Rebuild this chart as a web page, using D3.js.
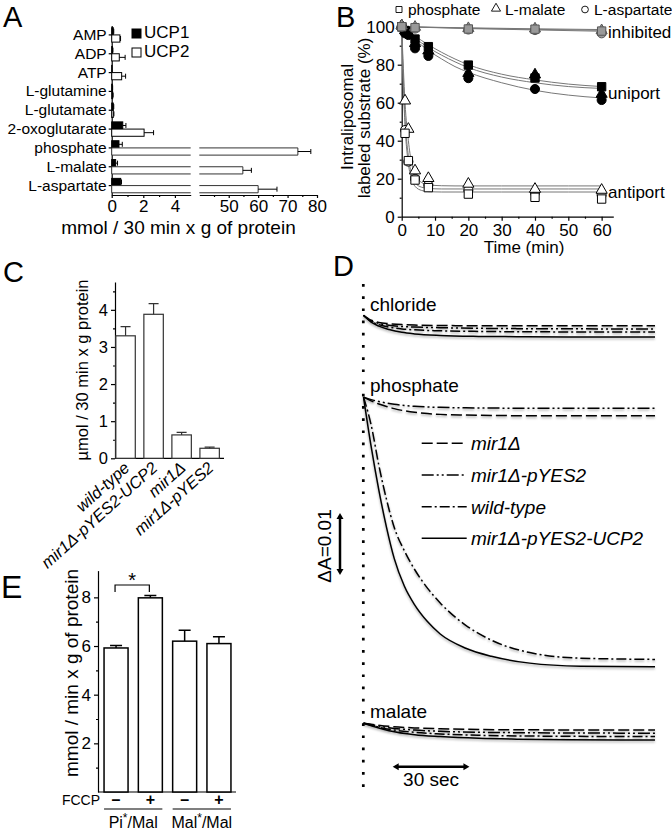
<!DOCTYPE html>
<html>
<head>
<meta charset="utf-8">
<script src="https://cdn.jsdelivr.net/npm/d3@7"></script>
<style>
  body { margin: 0; background: #fff; }
</style>
</head>
<body>
<div id="chart"></div>
<script>
// ---------- panel A : transport rates, UCP1 vs UCP2
const aCats = ["AMP", "ADP", "ATP", "L-glutamine", "L-glutamate", "2-oxoglutarate", "phosphate", "L-malate", "L-aspartate"];
const aUcp1 = [0.1, 0.05, 0.02, 0.04, 0.1, 0.7, 0.46, 0.25, 0.57];
const aUcp1Err = [0.03, 0.03, 0, 0.02, 0.03, 0.2, 0.21, 0.12, 0.05];
const aUcp2 = [0.52, 0.48, 0.63, 0.06, 0.1, 2.05, 73.5, 54.8, 60];
const aUcp2Err = [0.04, 0.37, 0.25, 0.03, 0.04, 0.6, 4.4, 2.9, 6.4];

// ---------- panel B : efflux time course
const bTimes = [0, 1, 2, 4, 8, 20, 40, 60];
const bUniPhos = [100, 98, 97.4, 93.5, 89.5, 79.8, 73, 68.4];
const bUniMal = [100, 97.5, 96, 90.7, 86.8, 75, 74.2, 64];
const bUniAsp = [100, 96.5, 95.6, 88.6, 84.6, 72.9, 67.2, 61.4];
const bAntiPhos = [100, 43.9, 29.5, 19.3, 15.3, 11.9, 10.2, 9.3];
const bAntiMal = [100, 60.5, 45.6, 23.7, 19.7, 16.7, 14, 13.5];
const bAntiAsp = [100, 45.6, 29, 20, 16.7, 14, 12.5, 11.5];
const bInhTimes = [0, 4, 20, 40, 60];
const bInhPhos = [100, 99.5, 98.8, 98.7, 97.7];
const bInhMal = [100, 99.3, 98.6, 98.4, 97.5];
const bInhAsp = [100, 99, 98.5, 98.2, 96.5];
// fitted curves
const bFitT = [0, 0.5, 1, 2, 3, 4, 6, 8, 12, 16, 20, 30, 40, 50, 60];
const bFitUniPhos = [100, 99.4, 98.8, 97.5, 96.2, 95, 92.7, 90.5, 86.5, 83, 80, 75, 72, 69.8, 68.5];
const bFitUniMal = [100, 99.2, 98.5, 97, 95.5, 94, 91.4, 89, 85, 81.5, 78.5, 73.5, 70.5, 68.5, 67.5];
const bFitUniAsp = [100, 99.1, 98.2, 96.5, 94.7, 93, 90.2, 87.5, 83, 79, 76, 70.5, 66.5, 64, 62.5];
const bFitAntiPhos = [100, 68, 48, 28, 19.5, 16, 13.8, 13.2, 13, 13, 13, 13, 13, 13, 13];
const bFitAntiMal = [100, 78, 60, 40, 28, 22, 18, 16.8, 16.3, 16.2, 16.2, 16.2, 16.2, 16.2, 16.2];
const bFitAntiAsp = [100, 72, 52, 32, 22, 18, 15.5, 14.9, 14.6, 14.6, 14.6, 14.6, 14.6, 14.6, 14.6];
const bFitInhT = [0, 20, 40, 60];
const bFitInhPhos = [100, 99.4, 98.9, 98.5];
const bFitInhMal = [100, 99.2, 98.6, 98.1];
const bFitInhAsp = [100, 99, 98.3, 97.6];
const bLegend = ["phosphate", "L-malate", "L-aspartate"];

// ---------- panel C : yeast mitochondria
const cStrains = ["wild-type", "mir1Δ-pYES2-UCP2", "mir1Δ", "mir1Δ-pYES2"];
const cValues = [3.3, 3.88, 0.63, 0.27];
const cErr = [0.25, 0.29, 0.07, 0.03];
const cTicks = [0, 1, 2, 3, 4];

// ---------- panel D : swelling traces (drop in absorbance, mΔA)
const dStrains = ["mir1Δ", "mir1Δ-pYES2", "wild-type", "mir1Δ-pYES2-UCP2"];
const dGroups = ["chloride", "phosphate", "malate"];
const dGroupOffset = [0, 13.2, 65.8];
const dTimesCl = [0, 3, 6, 10, 15, 20, 30, 45, 60, 80, 114];
const dCl = [
  [0, 0.8, 1.15, 1.35, 1.5, 1.58, 1.65, 1.68, 1.7, 1.7, 1.7],
  [0, 0.9, 1.3, 1.6, 1.8, 1.9, 2.0, 2.1, 2.15, 2.18, 2.2],
  [0, 1.0, 1.5, 1.9, 2.2, 2.35, 2.5, 2.6, 2.65, 2.68, 2.7],
  [0, 1.1, 1.75, 2.3, 2.75, 3.0, 3.25, 3.4, 3.45, 3.5, 3.5]
];
const dTimesPi = [0, 3, 6, 9, 12, 16, 20, 25, 30, 40, 50, 65, 85, 114];
const dPi = [
  [0, 0.6, 1.1, 1.5, 1.85, 2.2, 2.45, 2.65, 2.78, 2.9, 2.95, 3.0, 3.0, 3.0],
  [0, 0.4, 0.7, 0.95, 1.15, 1.35, 1.48, 1.58, 1.65, 1.72, 1.76, 1.79, 1.8, 1.8],
  [0, 4.5, 11, 16.5, 21, 24.8, 27.8, 30.8, 33.2, 36.8, 39.2, 41.2, 42.1, 42.3],
  [0, 8, 15, 21, 26, 30.5, 33.5, 36.2, 38.2, 40.5, 41.8, 42.9, 43.4, 43.5]
];
const dTimesMal = [0, 10, 20, 30, 45, 60, 80, 114];
const dMal = [
  [0, 0.5, 0.75, 0.88, 1.0, 1.05, 1.08, 1.1],
  [0, 0.72, 1.1, 1.3, 1.45, 1.52, 1.57, 1.6],
  [0, 0.97, 1.46, 1.72, 1.94, 2.04, 2.1, 2.15],
  [0, 1.2, 1.85, 2.15, 2.43, 2.56, 2.65, 2.7]
];

// ---------- panel E : proteoliposomes +/- FCCP
const eBars = ["Pi-", "Pi+", "Mal-", "Mal+"];
const eValues = [5.92, 7.98, 6.2, 6.1];
const eErr = [0.1, 0.1, 0.45, 0.28];
const eFccp = ["–", "+", "–", "+"];
const eTicks = [2, 4, 6, 8];

const FONT = "Liberation Sans, Arial, Helvetica, sans-serif";
const fmtInt = d3.format("d");
const svg = d3.select("#chart").append("svg")
  .attr("width", 672).attr("height", 830)
  .attr("font-family", FONT);

function fixAxis(g, size) {
  g.attr("font-family", FONT).attr("font-size", size);
  g.selectAll("line, path").attr("stroke", "#000").attr("stroke-width", 1.2);
  g.selectAll("text").attr("fill", "#000");
}

// panel letters
[["A", 3, 27, 29], ["B", 336, 27, 29], ["C", 3, 282, 29], ["D", 333, 276, 29], ["E", 1, 598, 32]].forEach(d => {
  svg.append("text").attr("x", d[1]).attr("y", d[2]).attr("font-size", d[3]).text(d[0]);
});

/* ================= A ================= */
const A = svg.append("g");
const aY = d3.scaleBand().domain(aCats).range([25.5, 195]);
const aXlo = d3.scaleLinear().domain([0, 5]).range([111.7, 190.7]);
const aXhi = d3.scaleLinear().domain([40, 80]).range([199.3, 317]);
const aBarH = 7.2;
const aMid = c => aY(c) + aY.bandwidth() / 2;
const aX = v => v <= 5 ? aXlo(v) : aXhi(v);

A.append("g").attr("transform", `translate(${aXlo(0)},0)`)
  .call(d3.axisLeft(aY).tickSize(3).tickSizeOuter(0).tickPadding(2))
  .call(g => fixAxis(g, 15.5));

A.append("g").attr("transform", "translate(0,195)")
  .call(d3.axisBottom(aXlo).tickValues([0, 2, 4]).tickFormat(fmtInt).tickSize(3).tickSizeOuter(0).tickPadding(1.5))
  .call(g => fixAxis(g, 17));
A.append("g").attr("transform", "translate(0,195)")
  .call(d3.axisBottom(aXlo).tickValues([1, 3]).tickSize(2).tickFormat(""))
  .call(g => { fixAxis(g, 17); g.select(".domain").remove(); });
A.append("g").attr("transform", "translate(0,195)")
  .call(d3.axisBottom(aXhi).tickValues([50, 60, 70, 80]).tickFormat(fmtInt).tickSize(3).tickSizeOuter(0).tickPadding(1.5))
  .call(g => fixAxis(g, 17));
A.append("g").attr("transform", "translate(0,195)")
  .call(d3.axisBottom(aXhi).tickValues([45, 55, 65, 75]).tickSize(2).tickFormat(""))
  .call(g => { fixAxis(g, 17); g.select(".domain").remove(); });

function aBar(v, err, top, fill) {
  const g = A.append("g");
  const y0 = top, y1 = top + aBarH;
  if (v <= 5) {
    g.append("rect").attr("x", aXlo(0)).attr("y", y0)
      .attr("width", aXlo(v) - aXlo(0)).attr("height", aBarH)
      .attr("fill", fill).attr("stroke", "#000").attr("stroke-width", 1);
  } else {
    g.append("rect").attr("x", aXlo(0)).attr("y", y0)
      .attr("width", aXlo(5) - aXlo(0)).attr("height", aBarH).attr("fill", fill);
    g.append("rect").attr("x", aXhi(40)).attr("y", y0)
      .attr("width", aXhi(v) - aXhi(40)).attr("height", aBarH).attr("fill", fill);
    g.append("path")
      .attr("d", `M${aXlo(5)},${y0}H${aXlo(0)}V${y1}H${aXlo(5)}M${aXhi(40)},${y0}H${aXhi(v)}V${y1}H${aXhi(40)}`)
      .attr("fill", "none").attr("stroke", "#333").attr("stroke-width", 1);
  }
  if (err > 0) {
    const ym = top + aBarH / 2;
    g.append("path")
      .attr("d", `M${aX(v)},${ym}H${aX(v + err)}M${aX(v + err)},${ym - 2.5}V${ym + 2.5}`)
      .attr("stroke", "#000").attr("stroke-width", 1).attr("fill", "none");
  }
}
aCats.forEach((c, i) => {
  aBar(aUcp1[i], aUcp1Err[i], aMid(c) - aBarH, "#000");
  aBar(aUcp2[i], aUcp2Err[i], aMid(c), "#fff");
});

// legend A
[["UCP1", "#000", 29], ["UCP2", "#fff", 48]].forEach(d => {
  A.append("rect").attr("x", 132).attr("y", d[2]).attr("width", 9).attr("height", 9)
    .attr("fill", d[1]).attr("stroke", "#000").attr("stroke-width", 1);
  A.append("text").attr("x", 144).attr("y", d[2] + 9).attr("font-size", 17).text(d[0]);
});
A.append("text").attr("x", 178.5).attr("y", 234).attr("text-anchor", "middle")
  .attr("font-size", 19).text("mmol / 30 min x g of protein");

/* ================= B ================= */
const B = svg.append("g");
const bX = d3.scaleLinear().domain([0, 63.5]).range([401.7, 613.3]);
const bY = d3.scaleLinear().domain([0, 101.5]).range([216.7, 23.85]);

B.append("g").attr("transform", `translate(${bX(0)},0)`)
  .call(d3.axisLeft(bY).tickValues([0, 20, 40, 60, 80, 100]).tickSize(4).tickSizeOuter(0).tickPadding(3))
  .call(g => fixAxis(g, 17));
B.append("g").attr("transform", `translate(${bX(0)},0)`)
  .call(d3.axisLeft(bY).tickValues([10, 30, 50, 70, 90]).tickSize(2).tickFormat(""))
  .call(g => { fixAxis(g, 17); g.select(".domain").remove(); });
B.append("g").attr("transform", `translate(0,${bY(0)})`)
  .call(d3.axisBottom(bX).tickValues([0, 10, 20, 30, 40, 50, 60]).tickSize(4).tickSizeOuter(0).tickPadding(3))
  .call(g => fixAxis(g, 17));
B.append("g").attr("transform", `translate(0,${bY(0)})`)
  .call(d3.axisBottom(bX).tickValues([5, 15, 25, 35, 45, 55]).tickSize(2).tickFormat(""))
  .call(g => { fixAxis(g, 17); g.select(".domain").remove(); });

B.append("text").attr("x", 524).attr("y", 253).attr("text-anchor", "middle")
  .attr("font-size", 17).text("Time (min)");
B.append("text").attr("transform", "translate(353,117) rotate(-90)").attr("text-anchor", "middle")
  .attr("font-size", 17).text("Intraliposomal");
B.append("text").attr("transform", "translate(370,118) rotate(-90)").attr("text-anchor", "middle")
  .attr("font-size", 17).text("labeled substrate (%)");

const bLine = d3.line().x(d => bX(d[0])).y(d => bY(d[1])).curve(d3.curveMonotoneX);
const bFits = [
  [bFitT, bFitUniPhos], [bFitT, bFitUniMal], [bFitT, bFitUniAsp],
  [bFitT, bFitAntiPhos], [bFitT, bFitAntiMal], [bFitT, bFitAntiAsp],
  [bFitInhT, bFitInhPhos], [bFitInhT, bFitInhMal], [bFitInhT, bFitInhAsp]
];
bFits.forEach(f => {
  B.append("path").datum(f[0].map((t, i) => [t, f[1][i]]))
    .attr("d", bLine).attr("fill", "none").attr("stroke", "#777").attr("stroke-width", 1);
});

const sqr = d3.symbol().type(d3.symbolSquare).size(70);
const tri = d3.symbol().type(d3.symbolTriangle).size(54);
const cir = d3.symbol().type(d3.symbolCircle).size(64);

function bMarks(times, vals, sym, fill, stroke, dy) {
  B.selectAll(null).data(times.map((t, i) => [t, vals[i]])).enter().append("path")
    .attr("d", sym)
    .attr("transform", d => `translate(${bX(d[0])},${bY(d[1]) + (dy || 0)})`)
    .attr("fill", fill).attr("stroke", stroke).attr("stroke-width", 1);
}
// circles, triangles, squares
bMarks(bTimes, bUniAsp, cir, "#000", "#000");
bMarks(bTimes, bUniMal, tri, "#000", "#000", -1);
bMarks(bTimes, bUniPhos, sqr, "#000", "#000");
bMarks(bTimes, bAntiAsp, cir, "#fff", "#000");
bMarks(bTimes, bAntiMal, tri, "#fff", "#000", -1);
bMarks(bTimes, bAntiPhos, sqr, "#fff", "#000");
bMarks(bInhTimes, bInhAsp, cir, "#999", "#555");
bMarks(bInhTimes, bInhMal, tri, "#999", "#555", -1);
bMarks(bInhTimes, bInhPhos, sqr, "#999", "#555");

[["inhibited", 38], ["uniport", 99], ["antiport", 198]].forEach(d => {
  B.append("text").attr("x", 608).attr("y", d[1]).attr("font-size", 17).text(d[0]);
});

// legend B
const bLegX = [399, 496, 585];
const bLegTypes = [d3.symbolSquare, d3.symbolTriangle, d3.symbolCircle];
bLegend.forEach((name, i) => {
  B.append("path").attr("d", d3.symbol().type(bLegTypes[i]).size(36))
    .attr("transform", `translate(${bLegX[i]},${i === 1 ? 8.5 : 9.5})`)
    .attr("fill", "#fff").attr("stroke", "#000").attr("stroke-width", 0.9);
  B.append("text").attr("x", bLegX[i] + 9).attr("y", 15).attr("font-size", 15.5).text(name);
});

/* ================= C ================= */
const C = svg.append("g");
const cX = d3.scaleBand().domain(cStrains).range([115, 220.2]).paddingInner(0.306).paddingOuter(0.03);
const cY = d3.scaleLinear().domain([0, 4.75]).range([458.3, 282]);

C.append("g").attr("transform", `translate(${cX.range()[0]},0)`)
  .call(d3.axisLeft(cY).tickValues(cTicks).tickFormat(fmtInt).tickSize(4).tickSizeOuter(0).tickPadding(3))
  .call(g => fixAxis(g, 16.5));
C.append("g").attr("transform", `translate(${cX.range()[0]},0)`)
  .call(d3.axisLeft(cY).tickValues([0.5, 1.5, 2.5, 3.5, 4.5]).tickSize(2).tickFormat(""))
  .call(g => { fixAxis(g, 16); g.select(".domain").remove(); });
C.append("line").attr("x1", 115).attr("x2", 224).attr("y1", cY(0)).attr("y2", cY(0))
  .attr("stroke", "#000").attr("stroke-width", 1.2);

cStrains.forEach((s, i) => {
  const x = cX(s), w = cX.bandwidth(), cx = x + w / 2;
  C.append("rect").attr("x", x).attr("y", cY(cValues[i]))
    .attr("width", w).attr("height", cY(0) - cY(cValues[i]))
    .attr("fill", "#fff").attr("stroke", "#333").attr("stroke-width", 1.2);
  const ye = cY(cValues[i] + cErr[i]);
  C.append("path").attr("d", `M${cx},${cY(cValues[i])}V${ye}M${cx - 5},${ye}H${cx + 5}`)
    .attr("stroke", "#333").attr("stroke-width", 1.2).attr("fill", "none");
  C.append("text").attr("transform", `translate(${cx + 5},${cY(0) + 11}) rotate(-42)`)
    .attr("text-anchor", "end").attr("font-size", 16.5).attr("font-style", "italic").text(s);
});
C.append("text").attr("transform", "translate(88,370) rotate(-90)").attr("text-anchor", "middle")
  .attr("font-size", 16.5).text("µmol / 30 min x g protein");

/* ================= D ================= */
const D = svg.append("g");
const defs = svg.append("defs");
defs.append("filter").attr("id", "shadow").attr("x", "-5%").attr("y", "-5%").attr("width", "110%").attr("height", "130%")
  .append("feDropShadow").attr("dx", 0).attr("dy", 1.5).attr("stdDeviation", 1)
  .attr("flood-color", "#000").attr("flood-opacity", 0.35);

const dX = d3.scaleLinear().domain([0, 114]).range([363.5, 655]);
const dY = d3.scaleLinear().domain([0, 80]).range([315.3, 315.3 + 80 * 6.2]);
const dDash = ["11,4", "12,3,2,3,2,3", "10,3,2,3", null];

// dotted injection line
D.append("line").attr("x1", 363.3).attr("x2", 363.3).attr("y1", 284).attr("y2", 795)
  .attr("stroke", "#000").attr("stroke-width", 2.7).attr("stroke-dasharray", "2.7,9.5");

const dLine = d3.line().x(d => dX(d[0])).y(d => dY(d[1])).curve(d3.curveMonotoneX);
const dSets = [[dTimesCl, dCl], [dTimesPi, dPi], [dTimesMal, dMal]];
dSets.forEach((set, gi) => {
  const tg = D.append("g").attr("filter", "url(#shadow)");
  set[1].forEach((vals, si) => {
    tg.append("path")
      .datum(set[0].map((t, k) => [t, dGroupOffset[gi] + vals[k]]))
      .attr("d", dLine).attr("fill", "none").attr("stroke", "#000")
      .attr("stroke-width", 1.5).attr("stroke-dasharray", dDash[si]);
  });
});
[311, 392, 718].forEach((y, i) => {
  D.append("text").attr("x", 370).attr("y", y).attr("font-size", 19).text(dGroups[i]);
});

// legend D
const dLegY = [443.3, 475, 506.7, 538.3];
dStrains.forEach((s, i) => {
  D.append("line").attr("x1", 421.7).attr("x2", 466.7).attr("y1", dLegY[i]).attr("y2", dLegY[i])
    .attr("stroke", "#000").attr("stroke-width", 1.5).attr("stroke-dasharray", dDash[i]);
  D.append("text").attr("x", 471).attr("y", dLegY[i] + 7).attr("font-size", 19)
    .attr("font-style", "italic").text(s);
});

// scale bars
function arrowHead(x, y, dir) {
  const s = 3.5, l = 6;
  const pts = {
    up: [[x, y], [x - s, y + l], [x + s, y + l]],
    down: [[x, y], [x - s, y - l], [x + s, y - l]],
    left: [[x, y], [x + l, y - s], [x + l, y + s]],
    right: [[x, y], [x - l, y - s], [x - l, y + s]]
  }[dir];
  D.append("path").attr("d", "M" + pts.map(p => p.join(",")).join("L") + "Z").attr("fill", "#000");
}
const vbTop = 513, vbBot = vbTop + (dY(10) - dY(0));
D.append("line").attr("x1", 340).attr("x2", 340).attr("y1", vbTop + 3).attr("y2", vbBot - 3)
  .attr("stroke", "#000").attr("stroke-width", 2.5);
arrowHead(340, vbTop, "up"); arrowHead(340, vbBot, "down");
D.append("text").attr("transform", `translate(331,${(vbTop + vbBot) / 2 + 2}) rotate(-90)`)
  .attr("text-anchor", "middle").attr("font-size", 19).text("ΔA=0.01");

const hbL = 392.7, hbR = hbL + (dX(30) - dX(0)), hbY = 766.7;
D.append("line").attr("x1", hbL + 3).attr("x2", hbR - 3).attr("y1", hbY).attr("y2", hbY)
  .attr("stroke", "#000").attr("stroke-width", 2.5);
arrowHead(hbL, hbY, "left"); arrowHead(hbR, hbY, "right");
D.append("text").attr("x", (hbL + hbR) / 2).attr("y", 786).attr("text-anchor", "middle")
  .attr("font-size", 19).text("30 sec");

/* ================= E ================= */
const E = svg.append("g");
const eX = d3.scaleBand().domain(eBars).range([98.9, 236.1]).paddingInner(0.3).paddingOuter(0.15);
const eY = d3.scaleLinear().domain([0, 9.1]).range([792, 792 - 9.1 * 24.33]);

E.append("g").attr("transform", "translate(98,0)")
  .call(d3.axisLeft(eY).tickValues(eTicks).tickFormat(fmtInt).tickSize(4).tickSizeOuter(0).tickPadding(3))
  .call(g => fixAxis(g, 17));
E.append("g").attr("transform", "translate(98,0)")
  .call(d3.axisLeft(eY).tickValues([1, 3, 5, 7]).tickSize(2).tickFormat(""))
  .call(g => { fixAxis(g, 17); g.select(".domain").remove(); });
E.append("line").attr("x1", 98).attr("x2", 236).attr("y1", eY(0)).attr("y2", eY(0))
  .attr("stroke", "#000").attr("stroke-width", 1.2);

eBars.forEach((b, i) => {
  const x = eX(b), w = eX.bandwidth(), cx = x + w / 2;
  E.append("rect").attr("x", x).attr("y", eY(eValues[i]))
    .attr("width", w).attr("height", eY(0) - eY(eValues[i]))
    .attr("fill", "#fff").attr("stroke", "#000").attr("stroke-width", 1.5);
  const ye = eY(eValues[i] + eErr[i]);
  E.append("path").attr("d", `M${cx},${eY(eValues[i])}V${ye}M${cx - 6},${ye}H${cx + 6}`)
    .attr("stroke", "#000").attr("stroke-width", 1.5).attr("fill", "none");
  E.append("text").attr("x", cx).attr("y", 805).attr("text-anchor", "middle")
    .attr("font-size", 16).attr("font-weight", "bold").text(eFccp[i]);
});
E.append("text").attr("x", 100).attr("y", 805).attr("text-anchor", "end").attr("font-size", 14).text("FCCP");

// significance bracket
const bx1 = eX("Pi-") + eX.bandwidth() / 2 - 1, bx2 = eX("Pi+") + eX.bandwidth() / 2 - 1;
E.append("path").attr("d", `M${bx1},592V585H${bx2}V592`).attr("fill", "none")
  .attr("stroke", "#000").attr("stroke-width", 1.2);
E.append("text").attr("x", (bx1 + bx2) / 2).attr("y", 587).attr("text-anchor", "middle")
  .attr("font-size", 20).text("*");

// group labels
[["Pi", "Pi-", "Pi+"], ["Mal", "Mal-", "Mal+"]].forEach(g => {
  const x1 = eX(g[1]), x2 = eX(g[2]) + eX.bandwidth();
  E.append("line").attr("x1", x1).attr("x2", x2).attr("y1", 809).attr("y2", 809)
    .attr("stroke", "#000").attr("stroke-width", 1.2);
  const t = E.append("text").attr("x", (x1 + x2) / 2).attr("y", 828).attr("text-anchor", "middle").attr("font-size", 16);
  t.append("tspan").text(g[0]);
  t.append("tspan").attr("dy", -6).attr("font-size", 12).text("*");
  t.append("tspan").attr("dy", 6).text("/Mal");
});
E.append("text").attr("transform", "translate(78,673) rotate(-90)").attr("text-anchor", "middle")
  .attr("font-size", 19).text("mmol / min x g of protein");
</script>
</body>
</html>
